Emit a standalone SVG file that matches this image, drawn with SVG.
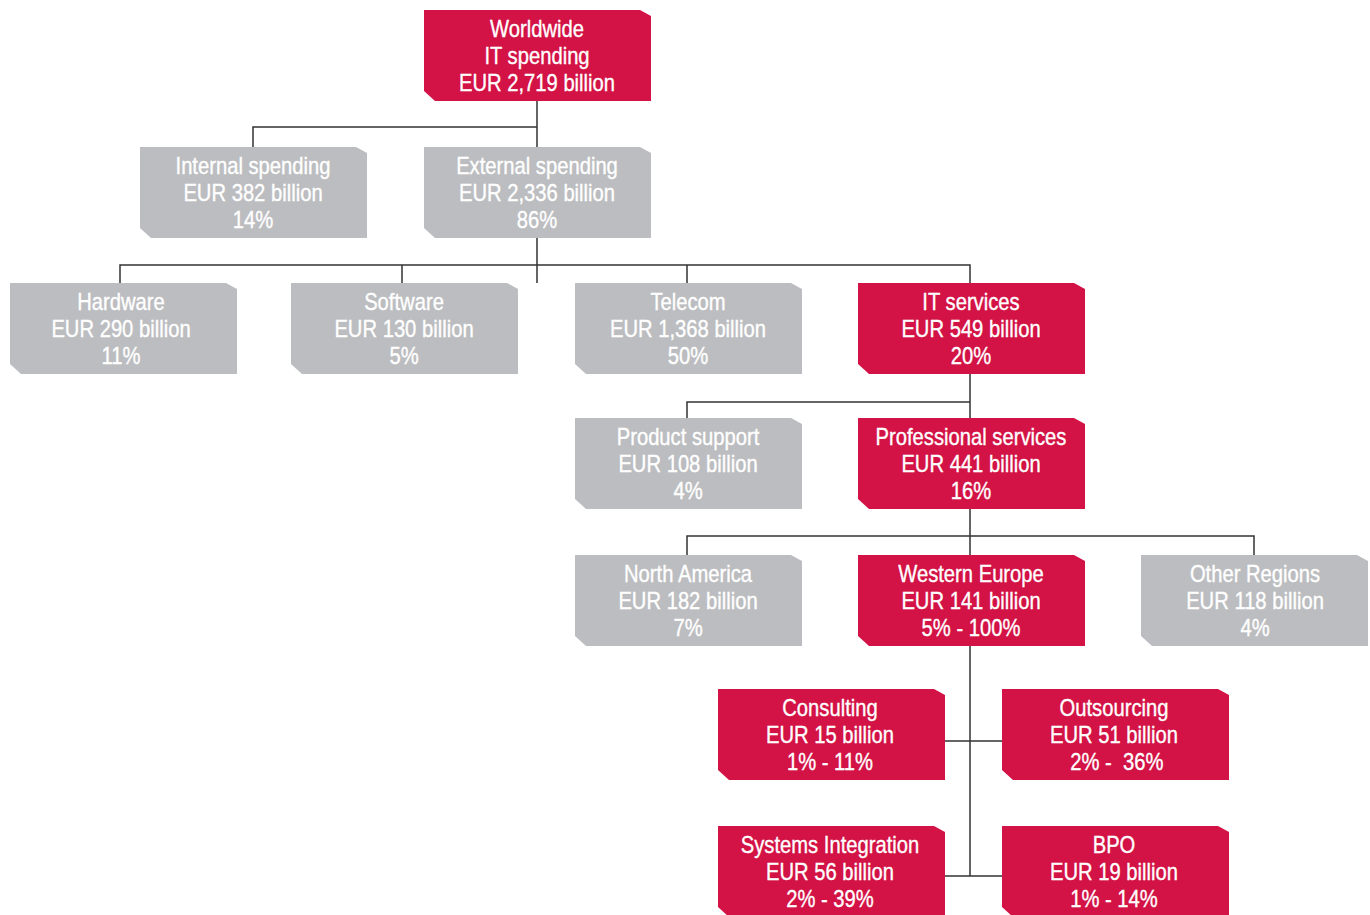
<svg xmlns="http://www.w3.org/2000/svg" width="1370" height="915" viewBox="0 0 1370 915">
<defs>
<style>
.r{fill:#d31245}
.g{fill:#bcbdc0}
text{font-family:"Liberation Sans",Arial,sans-serif;font-size:23.5px;fill:#ffffff;stroke:#ffffff;stroke-width:0.35;text-anchor:middle}
.c{stroke:#333333;stroke-width:1.5;fill:none}
</style>
<path id="bx" d="M0 0H216L227 6V91H11L0 81Z"/>
</defs>
<rect width="1370" height="915" fill="#ffffff"/>
<g id="connectors" class="c">
<path d="M537 101V147M253 147V127H537"/>
<path d="M537 238V283M120 283V265H970V283M402 265V283M687 265V283"/>
<path d="M970 374V418M687 418V402H970"/>
<path d="M970 509V555M687 555V536H1254V555"/>
<path d="M970 646V876M945 741H1002M945 876H1002"/>
</g>
<g id="worldwide"><use href="#bx" x="424" y="10" class="r"/><g transform="translate(537 10) scale(0.86 1)"><text y="27.5">Worldwide</text><text y="54.5">IT spending</text><text y="81">EUR 2,719 billion</text></g></g>
<g id="internal"><use href="#bx" x="140" y="147" class="g"/><g transform="translate(253 147) scale(0.86 1)"><text y="27.5">Internal spending</text><text y="54.5">EUR 382 billion</text><text y="81">14%</text></g></g>
<g id="external"><use href="#bx" x="424" y="147" class="g"/><g transform="translate(537 147) scale(0.86 1)"><text y="27.5">External spending</text><text y="54.5">EUR 2,336 billion</text><text y="81">86%</text></g></g>
<g id="hardware"><use href="#bx" x="10" y="283" class="g"/><g transform="translate(121 283) scale(0.86 1)"><text y="27.5">Hardware</text><text y="54.5">EUR 290 billion</text><text y="81">11%</text></g></g>
<g id="software"><use href="#bx" x="291" y="283" class="g"/><g transform="translate(404 283) scale(0.86 1)"><text y="27.5">Software</text><text y="54.5">EUR 130 billion</text><text y="81">5%</text></g></g>
<g id="telecom"><use href="#bx" x="575" y="283" class="g"/><g transform="translate(688 283) scale(0.86 1)"><text y="27.5">Telecom</text><text y="54.5">EUR 1,368 billion</text><text y="81">50%</text></g></g>
<g id="itservices"><use href="#bx" x="858" y="283" class="r"/><g transform="translate(971 283) scale(0.86 1)"><text y="27.5">IT services</text><text y="54.5">EUR 549 billion</text><text y="81">20%</text></g></g>
<g id="productsupport"><use href="#bx" x="575" y="418" class="g"/><g transform="translate(688 418) scale(0.86 1)"><text y="27.5">Product support</text><text y="54.5">EUR 108 billion</text><text y="81">4%</text></g></g>
<g id="professional"><use href="#bx" x="858" y="418" class="r"/><g transform="translate(971 418) scale(0.86 1)"><text y="27.5">Professional services</text><text y="54.5">EUR 441 billion</text><text y="81">16%</text></g></g>
<g id="northamerica"><use href="#bx" x="575" y="555" class="g"/><g transform="translate(688 555) scale(0.86 1)"><text y="27.5">North America</text><text y="54.5">EUR 182 billion</text><text y="81">7%</text></g></g>
<g id="westerneurope"><use href="#bx" x="858" y="555" class="r"/><g transform="translate(971 555) scale(0.86 1)"><text y="27.5">Western Europe</text><text y="54.5">EUR 141 billion</text><text y="81">5% - 100%</text></g></g>
<g id="otherregions"><use href="#bx" x="1141" y="555" class="g"/><g transform="translate(1255 555) scale(0.86 1)"><text y="27.5">Other Regions</text><text y="54.5">EUR 118 billion</text><text y="81">4%</text></g></g>
<g id="consulting"><use href="#bx" x="718" y="689" class="r"/><g transform="translate(830 689) scale(0.86 1)"><text y="27.5">Consulting</text><text y="54.5">EUR 15 billion</text><text y="81">1% - 11%</text></g></g>
<g id="outsourcing"><use href="#bx" x="1002" y="689" class="r"/><g transform="translate(1114 689) scale(0.86 1)"><text y="27.5">Outsourcing</text><text y="54.5">EUR 51 billion</text><text y="81" xml:space="preserve"> 2% -  36%</text></g></g>
<g id="systemsintegration"><use href="#bx" x="718" y="826" class="r"/><g transform="translate(830 826) scale(0.86 1)"><text y="27.5">Systems Integration</text><text y="54.5">EUR 56 billion</text><text y="81">2% - 39%</text></g></g>
<g id="bpo"><use href="#bx" x="1002" y="826" class="r"/><g transform="translate(1114 826) scale(0.86 1)"><text y="27.5">BPO</text><text y="54.5">EUR 19 billion</text><text y="81">1% - 14%</text></g></g>
</svg>
